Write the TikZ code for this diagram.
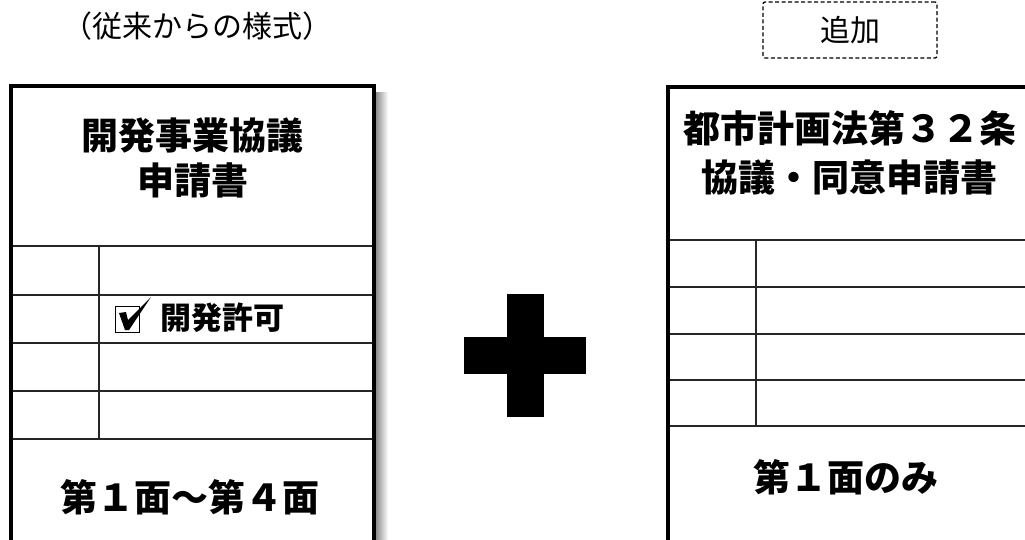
\documentclass[tikz,border=0pt]{standalone}
\usepackage{fontspec}
\setmainfont{Noto Sans CJK JP}
\begin{document}
\begin{tikzpicture}[x=1pt,y=-1pt,
  frame/.style={line width=4pt,draw=black},
  rowline/.style={line width=1.3pt,draw=black!85},
  ttl/.style={font=\fontsize{37}{46}\selectfont\bfseries,align=center,inner sep=0pt},
  lbl/.style={font=\fontsize{30}{34}\selectfont,inner sep=0pt}]
\useasboundingbox (0,0) rectangle (1025,539);
\clip (0,0) rectangle (1025,539);
\fill[white] (0,0) rectangle (1025,539);
% top labels
\node[lbl] (old) at (197,26) {（従来からの様式）};
\node[lbl,draw,line width=1.3pt,rounded corners=2pt,minimum width=174pt,minimum height=56pt,dash pattern=on 4pt off 2.5pt] (add) at (850,30) {追加};
% shadow of left sheet
\shade[left color=black!45,right color=white] (376,92) rectangle (388,560);
% left sheet
\fill[white] (11,86) rectangle (374,600);
\foreach \yy in {246,295,343,391,439}{\draw[rowline] (11,\yy) -- (374,\yy);}
\draw[rowline] (99,246) -- (99,439);
\draw[frame] (11,600) -- (11,86) -- (374,86) -- (374,600);
\node[ttl] (lt1) at (192.5,135) {開発事業協議};
\node[ttl] (lt2) at (192.5,180) {申請書};
\node[font=\fontsize{31}{36}\selectfont\bfseries,anchor=west,inner sep=0pt] (kyoka) at (160,318) {開発許可};
\node[draw=black,line width=1.2pt,minimum width=24pt,minimum height=26pt,inner sep=0pt] (box) at (127.5,319.5) {};
\fill[black] (119,313) -- (126,312) -- (128,320) -- (151,297) -- (129,330) -- (125,330) -- cycle;
\node[ttl] (lb) at (190,497) {第１面～第４面};
% plus
\fill[black] (507,294) rectangle (544,417);
\fill[black] (464,337) rectangle (586,374);
% right sheet
\foreach \yy in {240,287,334,380,426}{\draw[rowline] (667.5,\yy) -- (1040,\yy);}
\draw[rowline] (756,240) -- (756,426);
\draw[frame] (667.5,600) -- (667.5,87) -- (1031.5,87) -- (1031.5,600);
\node[ttl] (rt1) at (850,128) {都市計画法第３２条};
\node[ttl] (rt2) at (849,177) {協議・同意申請書};
\node[ttl] (rb) at (846,477) {第１面のみ};
\end{tikzpicture}
\end{document}
